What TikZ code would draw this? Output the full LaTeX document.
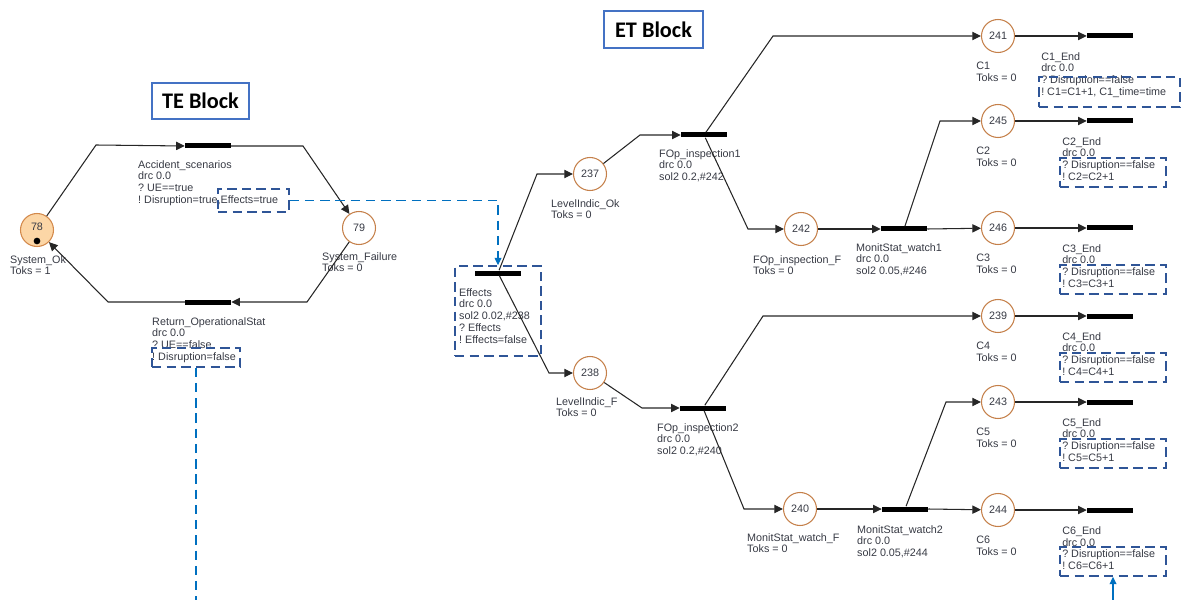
\documentclass[tikz,border=0pt]{standalone}
\usepackage{fontspec}
\setmainfont{Liberation Sans}
\newfontfamily\titlefont{Carlito}
\usepackage{tikz}
\usetikzlibrary{arrows.meta,fit}
\definecolor{placeclr}{RGB}{197,128,74}
\definecolor{tokfill}{RGB}{252,214,166}
\definecolor{tokdraw}{RGB}{211,137,75}
\definecolor{txtclr}{RGB}{55,58,68}
\definecolor{boxclr}{RGB}{47,85,151}
\definecolor{linkclr}{RGB}{0,112,192}
\definecolor{titleclr}{RGB}{68,114,196}
\def\lblfont{\fontsize{9.2}{10.2}\selectfont}
\frenchspacing
\tikzset{
	place/.style={circle, draw=placeclr, line width=0.9pt, minimum size=0.99cm, inner sep=0pt, font=\lblfont, text=txtclr},
	bar/.style={rectangle, fill=black, minimum width=1.38cm, minimum height=0.15cm, inner sep=0pt},
	lbl/.style={anchor=north west, inner sep=0pt, align=left, font=\lblfont, text=txtclr},
	arc/.style={draw=black!85, line width=0.9pt, -{Triangle[length=0.26cm,width=0.25cm]}},
	hlbox/.style={draw=boxclr, line width=1.3pt, dash pattern=on 8pt off 4.5pt, inner sep=0pt},
	link/.style={draw=linkclr, line width=1.2pt, dash pattern=on 8pt off 5pt},
	linktip/.style={-{Triangle[length=0.22cm,width=0.2cm]}},
	titlebox/.style={draw=titleclr, line width=1.4pt, inner sep=0pt, font=\titlefont\bfseries\fontsize{19}{22}\selectfont}
}

\begin{document}
\begin{tikzpicture}[x=0.03cm,y=-0.03cm]
			%%%%% START %%%%%
			\useasboundingbox (0,0) rectangle (1189,600);
			
			\node[titlebox, minimum width=2.91cm, minimum height=1.08cm] (teTitle) at (200.5,101) {TE Block};
			\node[titlebox, minimum width=2.97cm, minimum height=1.11cm] (etTitle) at (653.5,29.5) {ET Block};
			
			% TE block
			\node[place, fill=tokfill, draw=tokdraw] (p78) at (37,230) {};
			\node[font=\lblfont, text=txtclr, inner sep=0pt] (n78) at ([yshift=0.09cm]p78.center) {78};
			\fill ([yshift=-0.33cm]p78.center) circle (0.1cm);
			\node[place] (p79) at (359,228) {79};
			\node[bar] (tAcc) at (208,146) {};
			\node[bar] (tRet) at (208,302) {};
			
			\node[lbl] (l78) at (10,255) {System\_Ok\\Toks = 1};
			\node[lbl] (l79) at (322,252) {System\_Failure\\Toks = 0};
			\node[lbl] (lAcc) at (138,160) {Accident\_scenarios\\drc 0.0\\? UE==true\\! Disruption=true,Effects=true};
			\node[lbl] (lRet) at (152,317) {Return\_OperationalStat\\drc 0.0\\? UE==false\\! Disruption=false};
			
			\draw[arc] (p78) -- (96,145) -- (tAcc.west);
			\draw[arc] (tAcc.east) -- (303,146) -- (p79);
			\draw[arc] (p79) -- (307,302) -- (tRet.east);
			\draw[arc] (tRet.west) -- (108,302) -- (p78);
			
			% ET block
			\node[bar] (tEff) at (498,273) {};
			\node[place] (p237) at (590,174) {237};
			\node[place] (p238) at (590,373) {238};
			\node[bar] (tF1) at (704,135) {};
			\node[bar] (tF2) at (703,408) {};
			\node[place] (p242) at (801,229) {242};
			\node[place] (p240) at (800,509) {240};
			\node[bar] (tM1) at (904,229) {};
			\node[bar] (tM2) at (905,509) {};
			
			\node[lbl] (lEff) at (459,288) {Effects\\drc 0.0\\sol2 0.02,\#238\\? Effects\\! Effects=false};
			\node[lbl] (l237) at (551,199) {LevelIndic\_Ok\\Toks = 0};
			\node[lbl] (l238) at (556,397) {LevelIndic\_F\\Toks = 0};
			\node[lbl] (lF1) at (659,149) {FOp\_inspection1\\drc 0.0\\sol2 0.2,\#242};
			\node[lbl] (lF2) at (657,423) {FOp\_inspection2\\drc 0.0\\sol2 0.2,\#240};
			\node[lbl] (l242) at (753,255) {FOp\_inspection\_F\\Toks = 0};
			\node[lbl] (l240) at (747,533) {MonitStat\_watch\_F\\Toks = 0};
			\node[lbl] (lM1) at (856,243) {MonitStat\_watch1\\drc 0.0\\sol2 0.05,\#246};
			\node[lbl] (lM2) at (857,525) {MonitStat\_watch2\\drc 0.0\\sol2 0.05,\#244};
			
			\foreach \n/\y/\c in {241/36/1, 245/121/2, 246/228/3, 239/316/4, 243/402/5, 244/510/6}{
				\node[place] (p\n) at (998,\y) {\n};
				\node[bar] (tC\c) at (1110,\y) {};
				\node[lbl] (lC\c) at (976,\y+26) {C\c\\Toks = 0};
				\draw[arc] (p\n) -- (tC\c.west);
			}
			
			\node[lbl] (lE1) at (1041,52) {C1\_End\\drc 0.0\\? Disruption==false\\! C1=C1+1, C1\_time=time};
			\foreach \c/\y in {2/121, 3/228, 4/316, 5/402, 6/510}{
				\node[lbl] (lE\c) at (1062,\y+16) {C\c\_End\\drc 0.0\\? Disruption==false\\! C\c=C\c+1};
				\node[hlbox, fit={(1060,\y+37) (1166,\y+66)}] (hC\c) {};
			}
			\node[hlbox, fit={(1039,77) (1180,107)}] (hC1) {};
			
			\draw[arc] (tEff) -- (537,174) -- (p237);
			\draw[arc] (tEff) -- (549,373) -- (p238);
			\draw[arc] (p237) -- (640,135) -- (tF1.west);
			\draw[arc] (p238) -- (642,408) -- (tF2.west);
			\draw[arc] (tF1) -- (773,36) -- (p241);
			\draw[arc] (tF1) -- (748,229) -- (p242);
			\draw[arc] (tF2) -- (763,316) -- (p239);
			\draw[arc] (tF2) -- (744,509) -- (p240);
			\draw[arc] (p242) -- (tM1.west);
			\draw[arc] (p240) -- (tM2.west);
			\draw[arc] (tM1) -- (940,121) -- (p245);
			\draw[arc] (tM1.east) -- (p246);
			\draw[arc] (tM2) -- (946,402) -- (p243);
			\draw[arc] (tM2.east) -- (p244);
			
			% highlighted guards and links
			\node[hlbox, fit={(218,189) (289,212)}] (hEffTrue) {};
			\node[hlbox, fit={(152,348) (240,367)}] (hRet) {};
			\node[hlbox, fit={(455,266) (541,356)}] (hEff) {};
			
			\coordinate (retOut) at (196,600);
			\coordinate (c6In) at (1113,600);
			\draw[link, linktip] (hEffTrue.east) -| (hEff.north -| tEff);
			\draw[link] (hRet.south) -- (retOut);
			\draw[draw=linkclr, line width=1.2pt, linktip] (c6In) -- (hC6.south);
			
			%%%%% END %%%%%
\end{tikzpicture}
\end{document}
